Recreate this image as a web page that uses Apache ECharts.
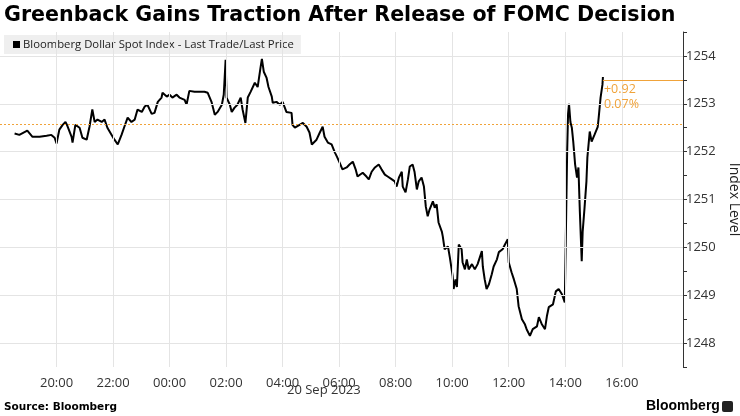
<!DOCTYPE html>
<html>
<head>
<meta charset="utf-8">
<script src="https://cdn.jsdelivr.net/npm/echarts@6/dist/echarts.min.js"></script>
<style>
html,body{margin:0;padding:0;background:#fff;}
#chart{width:740px;height:416px;}
</style>
</head>
<body>
<div id="chart"></div>
<script>
// Minutes since 18:00 on 19 Sep 2023
const minutesSince1800 = [31,41,58,69,84,99,109,116,120,126,133,139,143,152,154,160,169,175,184,190,196,201,207,216,222,228,237,243,250,258,264,271,279,286,292,301,307,313,322,328,335,343,345,354,360,366,375,381,392,396,402,413,424,434,441,449,456,462,471,475,479,481,488,492,498,504,511,515,521,526,532,541,547,553,556,560,566,570,577,579,587,594,600,608,619,621,626,636,643,651,657,662,672,679,685,689,696,704,711,715,721,727,736,742,749,755,759,770,778,783,789,796,804,810,817,823,832,838,842,847,853,855,861,866,870,876,880,885,889,895,900,904,908,912,919,923,927,931,938,940,944,951,955,961,963,967,970,974,980,982,987,991,995,1002,1008,1014,1023,1025,1029,1033,1038,1044,1048,1055,1059,1067,1072,1078,1080,1086,1091,1097,1101,1108,1114,1118,1125,1131,1140,1144,1150,1157,1161,1165,1174,1180,1186,1193,1199,1200,1202,1204,1206,1208,1211,1214,1217,1221,1225,1228,1231,1235,1237,1241,1245,1247,1252,1256,1262,1269,1271,1275,1279,1280];
const indexValues = [1252.38,1252.35,1252.44,1252.31,1252.31,1252.33,1252.35,1252.29,1252.17,1252.46,1252.56,1252.62,1252.54,1252.31,1252.19,1252.56,1252.50,1252.29,1252.25,1252.52,1252.88,1252.62,1252.67,1252.62,1252.67,1252.50,1252.35,1252.25,1252.15,1252.35,1252.52,1252.71,1252.62,1252.67,1252.88,1252.83,1252.94,1252.98,1252.79,1252.81,1253.04,1253.13,1253.23,1253.15,1253.19,1253.13,1253.19,1253.13,1253.08,1252.98,1253.27,1253.25,1253.25,1253.25,1253.23,1253.04,1252.77,1252.83,1252.98,1253.19,1253.92,1253.13,1252.98,1252.83,1252.92,1252.98,1253.13,1252.88,1252.60,1253.13,1253.25,1253.44,1253.35,1253.75,1253.94,1253.67,1253.54,1253.35,1253.15,1253.02,1253.04,1252.98,1253.04,1252.83,1252.81,1252.56,1252.50,1252.56,1252.60,1252.52,1252.40,1252.15,1252.25,1252.40,1252.52,1252.31,1252.19,1252.15,1251.98,1251.90,1251.77,1251.63,1251.67,1251.73,1251.79,1251.63,1251.48,1251.56,1251.48,1251.42,1251.58,1251.67,1251.73,1251.63,1251.52,1251.48,1251.42,1251.38,1251.27,1251.46,1251.58,1251.27,1251.15,1251.42,1251.69,1251.73,1251.58,1251.21,1251.38,1251.46,1251.27,1250.85,1250.65,1250.79,1250.96,1250.83,1250.90,1250.52,1250.33,1250.23,1249.96,1250.02,1249.79,1249.40,1249.13,1249.33,1249.17,1250.06,1249.96,1249.69,1249.54,1249.75,1249.54,1249.65,1249.54,1249.65,1249.92,1249.60,1249.33,1249.13,1249.23,1249.44,1249.60,1249.75,1249.90,1249.96,1250.06,1250.17,1249.69,1249.48,1249.33,1249.13,1248.77,1248.50,1248.40,1248.29,1248.15,1248.29,1248.35,1248.54,1248.40,1248.29,1248.56,1248.75,1248.81,1249.08,1249.13,1249.02,1248.85,1248.85,1250.69,1251.96,1252.79,1253.00,1252.62,1252.50,1252.21,1251.73,1251.46,1251.67,1250.75,1249.71,1250.33,1250.83,1251.38,1251.88,1252.42,1252.21,1252.35,1252.52,1252.71,1253.13,1253.40,1253.56,1253.49];
const xTickMinutes = [120,240,360,480,600,720,840,960,1080,1200,1320];
const yGridValues = [1248,1249,1250,1251,1252,1253,1254];
const previousClose = 1252.57;
const lastPrice = 1253.49;
const changeText = ['+0.92','0.07%'];
const seriesName = 'Bloomberg Dollar Spot Index - Last Trade/Last Price';

const orange = '#f0a33a';
const gridColor = '#e4e4e4';
const lineData = minutesSince1800.map((m, i) => [m, indexValues[i]]);
const X_MAX = 1450;

function clock(v) {
  const t = (18 * 60 + v) % 1440;
  const h = Math.floor(t / 60), m = Math.round(t % 60);
  return String(h).padStart(2, '0') + ':' + String(m).padStart(2, '0');
}

const chart = echarts.init(document.getElementById('chart'), null, {renderer: 'canvas'});
chart.setOption({
  animation: false,
  backgroundColor: '#ffffff',
  textStyle: {fontFamily: 'Open Sans'},
  title: {
    text: 'Greenback Gains Traction After Release of FOMC Decision',
    left: 4, top: 5, padding: 0,
    textStyle: {fontFamily: 'DejaVu Sans', fontWeight: 'bold', fontSize: 20.6, color: '#000'}
  },
  legend: {
    left: 4, top: 35,
    data: [seriesName],
    icon: 'rect', itemWidth: 7, itemHeight: 7, itemGap: 4,
    backgroundColor: '#efefef',
    padding: [4, 7, 4, 9],
    textStyle: {fontFamily: 'Open Sans', fontSize: 11.3, color: '#222', padding: [0,0,0,-2]}
  },
  grid: {left: 0, right: 57, top: 32, bottom: 49, containLabel: false, outerBoundsMode: 'none'},
  xAxis: {
    type: 'value', min: 0, max: X_MAX, interval: 120,
    axisLine: {show: false, onZero: false}, axisTick: {show: false}, splitLine: {show: false},
    axisLabel: {
      margin: 10, fontSize: 13, color: '#333', fontFamily: 'Open Sans',
      formatter: v => (v <= 0 || v > 1320) ? '' : clock(v)
    }
  },
  yAxis: {
    type: 'value', position: 'right', min: 1247.5, max: 1254.5, interval: 0.5,
    name: 'Index Level', nameLocation: 'middle', nameRotate: -90, nameGap: 33,
    nameTextStyle: {fontSize: 14, color: '#222', fontFamily: 'Open Sans'},
    axisLine: {show: true, onZero: false, lineStyle: {color: '#333', width: 1}},
    axisTick: {show: true, length: 4, lineStyle: {color: '#333'}},
    splitLine: {show: false},
    axisLabel: {
      margin: 3, fontSize: 13, color: '#333', fontFamily: 'Open Sans',
      formatter: v => Number.isInteger(v) ? String(v) : ''
    }
  },
  series: [
    {
      name: 'grid', type: 'line', data: [], silent: true, z: 1,
      markLine: {
        silent: true, symbol: 'none', animation: false,
        label: {show: false},
        lineStyle: {color: gridColor, type: 'solid', width: 1},
        data: xTickMinutes.map(v => ({xAxis: v})).concat(yGridValues.map(v => ({yAxis: v})))
      }
    },
    {
      name: seriesName, type: 'line', data: lineData, showSymbol: false, z: 3,
      lineStyle: {color: '#000', width: 2}, itemStyle: {color: '#000'},
      markLine: {
        silent: true, symbol: 'none', animation: false,
        data: [
          {yAxis: previousClose, lineStyle: {color: orange, type: [2, 2], width: 1}, label: {show: false}},
          [
            {coord: [minutesSince1800[minutesSince1800.length - 1], lastPrice], lineStyle: {color: orange, type: 'solid', width: 1.2},
             label: {show: true, position: 'insideStartBottom', formatter: changeText.join('\n'), color: orange, fontSize: 12.5, lineHeight: 15, fontFamily: 'Open Sans', align: 'left', distance: [1, 2]}},
            {coord: [X_MAX, lastPrice]}
          ]
        ]
      }
    }
  ],
  graphic: [
    {type: 'text', left: 287, top: 384, style: {text: '20 Sep 2023', font: '13px "Open Sans"', fill: '#333'}},
    {type: 'text', left: 4, top: 402, style: {text: 'Source: Bloomberg', font: 'bold 10.5px "DejaVu Sans"', fill: '#000'}},
    {type: 'text', left: 646, top: 399, style: {text: 'Bloomberg', font: 'bold 14px "Liberation Sans"', fill: '#000'}},
    {type: 'rect', left: 722, top: 401, shape: {width: 11, height: 11, r: 2}, style: {fill: '#222'}},
    {type: 'rect', left: 5, top: 41, shape: {width: 5, height: 5}, style: {fill: 'none', stroke: '#999', lineWidth: 1}}
  ]
});
</script>
</body>
</html>
